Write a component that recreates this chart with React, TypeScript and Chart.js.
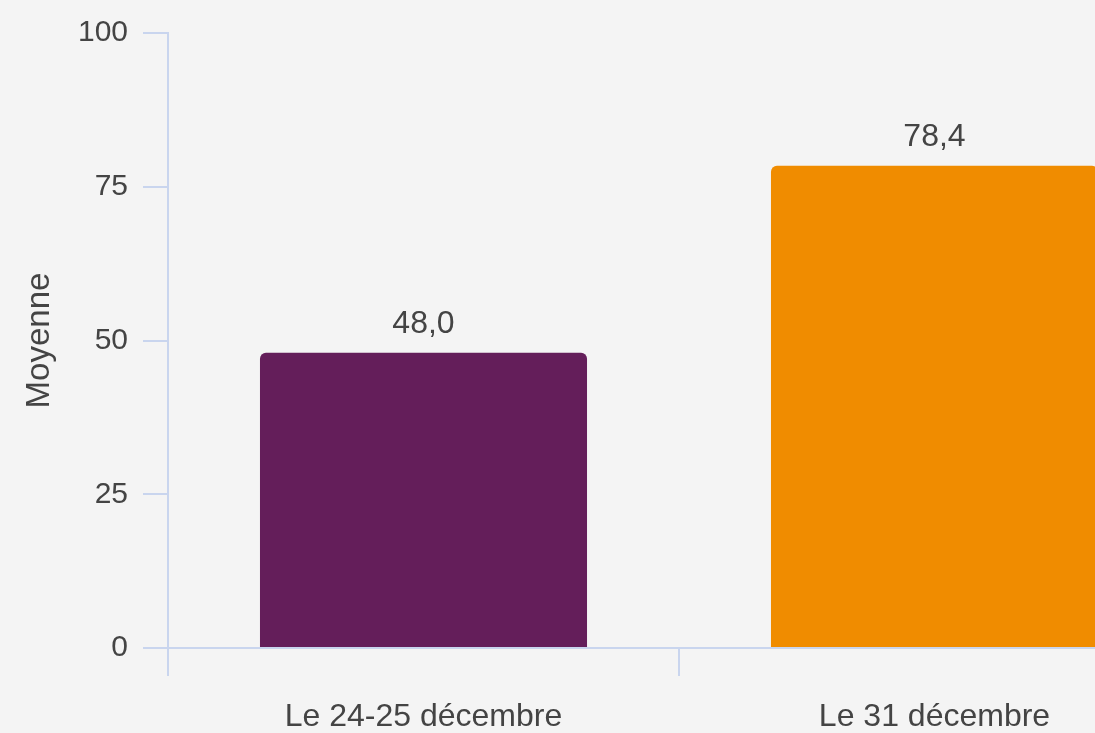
import React, { useEffect, useRef } from "react";
import { Chart, registerables } from "chart.js";

Chart.register(...registerables);

const categories = ["Le 24-25 décembre", "Le 31 décembre"];
const values = [48.0, 78.4];
const barColors = ["#641E5A", "#F08C00"];
const yTicks = [0, 25, 50, 75, 100];
const yTitle = "Moyenne";

const FONT = "'Liberation Sans', Arial, Helvetica, sans-serif";
const AXIS_COLOR = "#C9D5EE";
const TEXT_COLOR = "#444444";

const valueLabels = {
  id: "valueLabels",
  afterDatasetsDraw(chart: any) {
    const ctx = chart.ctx;
    const meta = chart.getDatasetMeta(0);
    ctx.save();
    ctx.font = `32px ${FONT}`;
    ctx.fillStyle = TEXT_COLOR;
    ctx.textAlign = "center";
    ctx.textBaseline = "middle";
    meta.data.forEach((bar: any, i: number) => {
      const v = values[i];
      ctx.fillText(v.toFixed(1).replace(".", ","), bar.x, bar.y - 29);
    });
    ctx.restore();
  },
};

export default function App() {
  const ref = useRef<HTMLCanvasElement | null>(null);

  useEffect(() => {
    if (!ref.current) return;
    const chart = new Chart(ref.current, {
      type: "bar",
      data: {
        labels: categories,
        datasets: [
          {
            data: values,
            backgroundColor: barColors,
            borderRadius: 6,
            borderSkipped: "bottom",
            barPercentage: 0.8,
            categoryPercentage: 0.8,
          },
        ],
      },
      plugins: [valueLabels],
      options: {
        animation: false,
        responsive: false,
        devicePixelRatio: 1,
        layout: { padding: { top: 30, right: 25, left: 0, bottom: 0 } },
        plugins: { legend: { display: false }, tooltip: { enabled: false } },
        scales: {
          x: {
            grid: {
              drawOnChartArea: false,
              tickLength: 28,
              color: AXIS_COLOR,
              lineWidth: 2,
            },
            border: { color: AXIS_COLOR, width: 2 },
            ticks: {
              color: TEXT_COLOR,
              padding: 22,
              font: { family: FONT, size: 32 },
            },
            afterFit(scale: any) {
              scale.height = 112;
            },
          },
          y: {
            min: 0,
            max: 100,
            afterBuildTicks(scale: any) {
              scale.ticks = yTicks.map((v) => ({ value: v }));
            },
            grid: {
              drawOnChartArea: false,
              tickLength: 25,
              color: AXIS_COLOR,
              lineWidth: 2,
            },
            border: { color: AXIS_COLOR, width: 2 },
            ticks: {
              color: TEXT_COLOR,
              padding: 15,
              font: { family: FONT, size: 30 },
            },
            title: {
              display: true,
              text: yTitle,
              color: TEXT_COLOR,
              font: { family: FONT, size: 33 },
              padding: { top: 20, bottom: 4 },
            },
            afterFit(scale: any) {
              scale.width = 168;
            },
          },
        },
      },
    });
    return () => chart.destroy();
  }, []);

  return (
    <div
      style={{
        position: "fixed",
        left: 0,
        top: 0,
        width: 1095,
        height: 733,
        overflow: "hidden",
        background: "#F4F4F4",
      }}
    >
      <canvas
        ref={ref}
        width={1215}
        height={760}
        style={{ display: "block", width: 1215, height: 760 }}
      />
    </div>
  );
}
